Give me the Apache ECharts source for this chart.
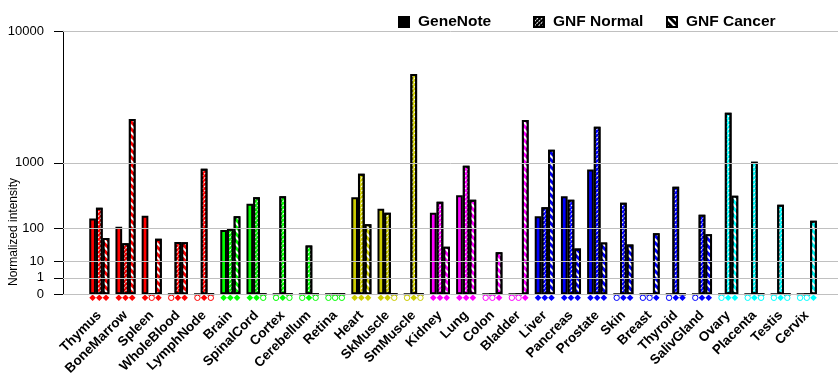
<!DOCTYPE html>
<html>
<head>
<meta charset="utf-8">
<script src="https://cdn.jsdelivr.net/npm/echarts@6/dist/echarts.min.js"></script>
<style>
html,body{margin:0;padding:0;background:#fff;}
#chart{width:840px;height:385px;}
</style>
</head>
<body>
<div id="chart"></div>
<script>
// ---- data ----
const categories = ['Thymus','BoneMarrow','Spleen','WholeBlood','LymphNode','Brain','SpinalCord','Cortex','Cerebellum','Retina','Heart','SkMuscle','SmMuscle','Kidney','Lung','Colon','Bladder','Liver','Pancreas','Prostate','Skin','Breast','Thyroid','SalivGland','Ovary','Placenta','Testis','Cervix'];
const catColors = ['#FF0000','#FF0000','#FF0000','#FF0000','#FF0000','#00FF00','#00FF00','#00FF00','#00FF00','#00FF00','#CCCC00','#CCCC00','#CCCC00','#FF00FF','#FF00FF','#FF00FF','#FF00FF','#0000FF','#0000FF','#0000FF','#0000FF','#0000FF','#0000FF','#0000FF','#00FFFF','#00FFFF','#00FFFF','#00FFFF'];
const seriesNames = ['GeneNote','GNF Normal','GNF Cancer'];
const geneNote  = [160,110,180,0,0,93,290,0,0,0,363,240,0,204,389,0,0,176,376,843,0,0,0,0,0,0,0,0];
const gnfNormal = [250,43,0,47,860,99,363,376,37,0,748,204,5560,311,926,0,0,253,334,2232,300,0,512,188,2917,1025,279,0];
const gnfCancer = [60,2600,57,46,0,176,0,0,0,0,123,0,0,34,334,22.5,2550,1368,30,45,40,78,0,74,383,0,0,145];
// present (1) / absent (0) calls shown as markers under the bars
const callGeneNote  = [1,1,1,0,0,1,1,0,0,0,1,1,0,1,1,0,0,1,1,1,0,0,0,0,0,0,0,0];
const callGnfNormal = [1,1,0,1,1,1,1,1,1,0,1,1,1,1,1,0,0,1,1,1,1,0,1,1,1,1,1,0];
const callGnfCancer = [1,1,1,1,0,1,0,0,0,0,1,0,0,1,1,1,1,1,1,1,1,1,1,1,1,0,0,1];
const tickValues = [0,1,10,100,1000,10000];
const tickLabels = ['0','1','10','100','1000','10000'];

// ---- scale: y proportional to value^log10(2) ----
const P = Math.log10(2);
const T = v => (v <= 0 ? 0 : Math.pow(v, P));
const BAR_W = 6.7;
const FONT = '"Liberation Sans", Arial, Helvetica, sans-serif';

const values = [geneNote, gnfNormal, gnfCancer];
const calls = [callGeneNote, callGnfNormal, callGnfCancer];
const decals = [
  null,
  {symbol:'rect', symbolSize:1, color:'#ffffff', backgroundColor:null, dashArrayX:[[2,1]], dashArrayY:[1,2], rotation:-Math.PI/4},
  {symbol:'rect', symbolSize:1, color:'#ffffff', backgroundColor:null, dashArrayX:[1,0], dashArrayY:[2,2.5], rotation:Math.PI/4}
];

const barSeries = seriesNames.map((name, s) => ({
  name: name,
  type: 'bar',
  xAxisIndex: 1,
  yAxisIndex: 1,
  barWidth: BAR_W,
  barGap: '0%',
  z: 3,
  itemStyle: Object.assign({color:'#000', borderColor:'#000', borderWidth:2}, decals[s] ? {decal: decals[s]} : {}),
  data: values[s].map((v, i) => ({value: T(v), itemStyle: {color: catColors[i]}}))
}));

const markerData = [];
categories.forEach((c, i) => { for (let s = 0; s < 3; s++) markerData.push([i, s, calls[s][i]]); });

const chart = echarts.init(document.getElementById('chart'), null, {renderer:'canvas'});
chart.setOption({
  animation: false,
  backgroundColor: '#fff',
  textStyle: {fontFamily: FONT},
  legend: seriesNames.map((n, k) => ({
    data: [n],
    left: [398, 533, 666][k],
    top: 14,
    padding: 0,
    itemWidth: 10,
    itemHeight: 10,
    icon: 'rect',
    selectedMode: false,
    textStyle: {fontSize: 15.5, fontWeight: 'bold', color:'#000', fontFamily: FONT, padding:[0,0,0,4], lineHeight: 16}
  })),
  grid: [
    {left: 63, right: 2, top: 31.3, bottom: 90.7},
    {left: 86.2, right: 20.1, top: 31.3, bottom: 90.7}
  ],
  xAxis: [
    {gridIndex:0, type:'value', min:0, max:1, show:false},
    {gridIndex:1, type:'category', data: categories,
     axisLine:{show:false}, axisTick:{show:false},
     axisLabel:{rotate:45, margin:19, fontSize:13.5, fontWeight:'bold', color:'#000', fontFamily:FONT, interval:0}}
  ],
  yAxis: [
    {gridIndex:0, type:'value', min:0, max:T(10000),
     axisLine:{show:true, lineStyle:{color:'#000', width:1}},
     axisTick:{show:true, length:9, lineStyle:{color:'#000'}, customValues: tickValues.map(T)},
     axisLabel:{show:true, margin:19, fontSize:13, color:'#000', fontFamily:FONT,
       customValues: tickValues.map(T),
       formatter: function (v) { const k = tickValues.map(T).findIndex(t => Math.abs(t - v) < 1e-6); return k >= 0 ? tickLabels[k] : ''; }},
     splitLine:{show:false}},
    {gridIndex:1, type:'value', min:0, max:T(10000), show:false}
  ],
  graphic: [{
    type:'text', x:14, y:232, rotation: Math.PI/2,
    style:{text:'Normalized intensity', font:'12px ' + FONT, fill:'#000', align:'center', verticalAlign:'middle'}
  }],
  series: [
    {type:'line', xAxisIndex:0, yAxisIndex:0, data:[], silent:true, z:1,
     markLine:{silent:true, symbol:['none','none'], label:{show:false}, animation:false,
       lineStyle:{color:'#C0C0C0', width:1, type:'solid'},
       data: tickValues.map(v => ({yAxis: T(v)}))}}
  ].concat(barSeries).concat([{
    type:'custom', xAxisIndex:1, yAxisIndex:1, silent:true, z:4,
    encode:{x:0, y:1},
    data: markerData,
    renderItem: function (params, api) {
      const i = api.value(0), s = api.value(1), p = api.value(2);
      const c = api.coord([i, 0]);
      const x = c[0] + (s - 1) * BAR_W;
      const y = c[1] + 3.5;
      const col = catColors[i];
      if (p) {
        return {type:'polygon', shape:{points:[[x, y-3.3],[x+3.3, y],[x, y+3.3],[x-3.3, y]]}, style:{fill: col}};
      }
      return {type:'circle', shape:{cx:x, cy:y, r:2.7}, style:{fill:'#fff', stroke: col, lineWidth:1}};
    }
  }])
});
</script>
</body>
</html>
